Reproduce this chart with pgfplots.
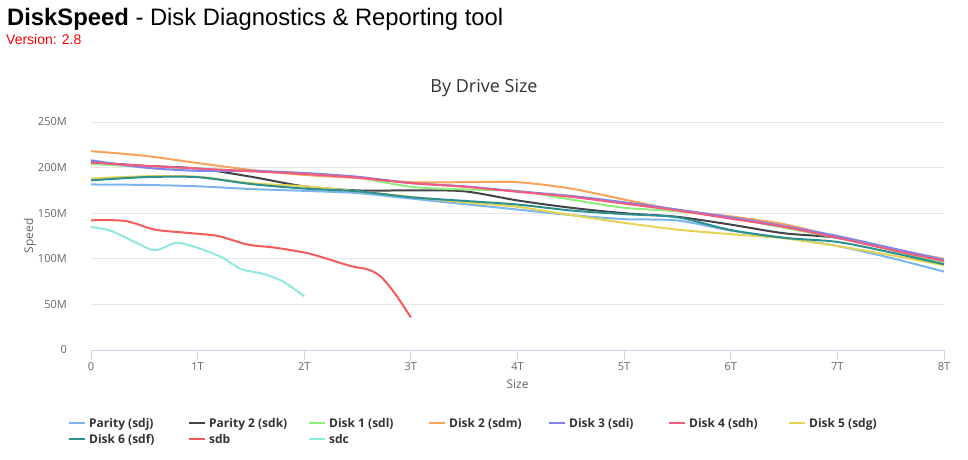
\documentclass[border=0pt]{standalone}
\usepackage{pgfplots}
\pgfplotsset{compat=1.18}
\usepackage{fontspec}
\setmainfont{Liberation Sans}
\newfontfamily\chartfont{Open Sans}

\definecolor{s1}{HTML}{7CB5EC}
\definecolor{s2}{HTML}{434348}
\definecolor{s3}{HTML}{90ED7D}
\definecolor{s4}{HTML}{F7A35C}
\definecolor{s5}{HTML}{8085E9}
\definecolor{s6}{HTML}{F15C80}
\definecolor{s7}{HTML}{E4D354}
\definecolor{s8}{HTML}{2B908F}
\definecolor{s9}{HTML}{F45B5B}
\definecolor{s10}{HTML}{91E8E1}
\definecolor{gridc}{HTML}{E6E6E6}
\definecolor{axisc}{HTML}{CCD6EB}
\definecolor{labc}{HTML}{666666}
\definecolor{titc}{HTML}{333333}

\newcommand{\leg}[1]{\makebox[99bp][l]{#1}}

\begin{document}
\begin{tikzpicture}
\useasboundingbox (0,0) rectangle (968bp,460bp);

% page header
\node[anchor=base west, inner sep=0pt] at (7bp,434bp)
  {\fontsize{23.8bp}{28bp}\selectfont\textbf{DiskSpeed} - Disk Diagnostics \& Reporting tool};
\node[anchor=base west, inner sep=0pt, text=red] at (6bp,415bp)
  {\fontsize{14bp}{16bp}\selectfont Version: 2.8};
% chart title
\node[anchor=base, inner sep=0pt, text=titc] at (484bp,367bp)
  {\chartfont\fontsize{18bp}{22bp}\selectfont By Drive Size};

\begin{axis}[
  at={(91bp,110bp)}, anchor=south west,
  scale only axis, width=853bp, height=228bp,
  xmin=0, xmax=8, ymin=0, ymax=250,
  axis lines*=left,
  x axis line style={draw=axisc, line width=1bp, -},
  y axis line style={draw=none},
  xtick={0,1,2,3,4,5,6,7,8},
  xticklabels={0,1T,2T,3T,4T,5T,6T,7T,8T},
  ytick={0,50,100,150,200,250},
  yticklabels={0,50M,100M,150M,200M,250M},
  tick align=outside,
  major tick length=10bp,
  xtick style={draw=axisc, line width=1bp},
  ytick style={draw=none},
  ymajorgrids,
  major grid style={draw=gridc, line width=1bp},
  tick label style={font=\chartfont\fontsize{11bp}{13bp}\selectfont, text=labc, inner sep=0pt},
  yticklabel style={anchor=east, xshift=-14bp},
  xticklabel style={anchor=north, yshift=-2bp},
  xlabel={Size}, ylabel={Speed},
  every axis x label/.style={at={(axis description cs:0.5,-0.149)}, anchor=center,
    font=\chartfont\fontsize{12bp}{14bp}\selectfont, text=labc},
  every axis y label/.style={at={(axis description cs:-0.0715,0.5)}, anchor=center, rotate=90,
    font=\chartfont\fontsize{12bp}{14bp}\selectfont, text=labc},
  legend columns=7,
  legend style={at={(axis description cs:-0.0305,-0.2763)}, anchor=north west,
    draw=none, fill=none, row sep=0pt,
    font=\chartfont\bfseries\fontsize{12bp}{14bp}\selectfont, text=titc,
    nodes={inner sep=0pt, minimum height=16bp},
    /tikz/every odd column/.append style={column sep=3bp}},
  legend image code/.code={\draw[#1] (0bp,0bp) -- (16bp,0bp);},
  every axis plot/.append style={line width=2bp, smooth, tension=0.5, no marks},
  clip=false,
]
% Parity (sdj)
\addplot[s1] coordinates {(0,181.5)(0.5,181)(1,179.5)(1.5,176.5)(2,174.5)(2.5,172)(3,166)(3.5,160)(4,154)(4.5,148)(5,143.5)(5.5,142)(6,131)(6.5,123)(7,114)(7.5,101)(8,86)};
\addlegendentry{\leg{Parity (sdj)}}
% Parity 2 (sdk)
\addplot[s2] coordinates {(0,206)(0.5,202)(1,199)(1.5,190)(2,179.5)(2.5,175)(3,175)(3.5,174)(4,164)(4.5,156)(5,150)(5.5,146)(6,137.5)(6.5,128)(7,123)(7.5,110)(8,95)};
\addlegendentry{\leg{Parity 2 (sdk)}}
% Disk 1 (sdl)
\addplot[s3] coordinates {(0,204)(0.5,201)(1,199)(1.5,196)(2,194)(2.5,189)(3,179)(3.5,176)(4,174.5)(4.5,165)(5,156)(5.5,152)(6,145)(6.5,134)(7,123)(7.5,110)(8,95.5)};
\addlegendentry{\leg{Disk 1 (sdl)}}
% Disk 2 (sdm)
\addplot[s4] coordinates {(0,218)(0.5,213)(1,205)(1.5,197.5)(2,192)(2.5,188.5)(3,184)(3.5,184)(4,184)(4.5,177)(5,165)(5.5,153.5)(6,146.5)(6.5,138)(7,124)(7.5,111)(8,100)};
\addlegendentry{\leg{Disk 2 (sdm)}}
% Disk 3 (sdi)
\addplot[s5] coordinates {(0,208)(0.5,200)(1,196.5)(1.5,196.5)(2,194)(2.5,190)(3,183)(3.5,179.5)(4,174)(4.5,169)(5,162)(5.5,154)(6,145.5)(6.5,136)(7,125)(7.5,112)(8,99)};
\addlegendentry{\leg{Disk 3 (sdi)}}
% Disk 4 (sdh)
\addplot[s6] coordinates {(0,205.5)(0.5,202)(1,199)(1.5,196)(2,193)(2.5,189)(3,183)(3.5,179)(4,173.5)(4.5,168)(5,160.5)(5.5,153)(6,144)(6.5,135)(7,123)(7.5,110)(8,97.5)};
\addlegendentry{\leg{Disk 4 (sdh)}}
% Disk 5 (sdg)
\addplot[s7] coordinates {(0,188)(0.5,190.5)(1,190)(1.5,183)(2,179.5)(2.5,174)(3,168)(3.5,162)(4,157)(4.5,148)(5,139.5)(5.5,132)(6,127)(6.5,122.5)(7,114)(7.5,104)(8,93)};
\addlegendentry{\leg{Disk 5 (sdg)}}
% Disk 6 (sdf)
\addplot[s8] coordinates {(0,186)(0.5,189.5)(1,189.5)(1.5,182)(2,177)(2.5,174)(3,167.5)(3.5,163.5)(4,159.5)(4.5,153)(5,149)(5.5,145.5)(6,131.5)(6.5,123)(7,118.5)(7.5,107)(8,94)};
\addlegendentry{\leg{Disk 6 (sdf)}}
% sdb
\addplot[s9] coordinates {(0,142.2)(0.32,141.5)(0.6,132)(0.91,128.4)(1.19,125)(1.47,115.6)(1.72,112.3)(2.0,106.9)(2.16,102)(2.44,91.9)(2.6,88.3)(2.72,80.2)(2.85,62)(3.0,35.7)};
\addlegendentry{\leg{sdb}}
% sdc
\addplot[s10] coordinates {(0,135)(0.19,130.5)(0.41,118.5)(0.6,109.4)(0.8,117.4)(1.0,112)(1.22,102)(1.41,88.6)(1.6,83.9)(1.79,75.8)(2.0,59)};
\addlegendentry{\leg{sdc}}
\end{axis}
\end{tikzpicture}
\end{document}
